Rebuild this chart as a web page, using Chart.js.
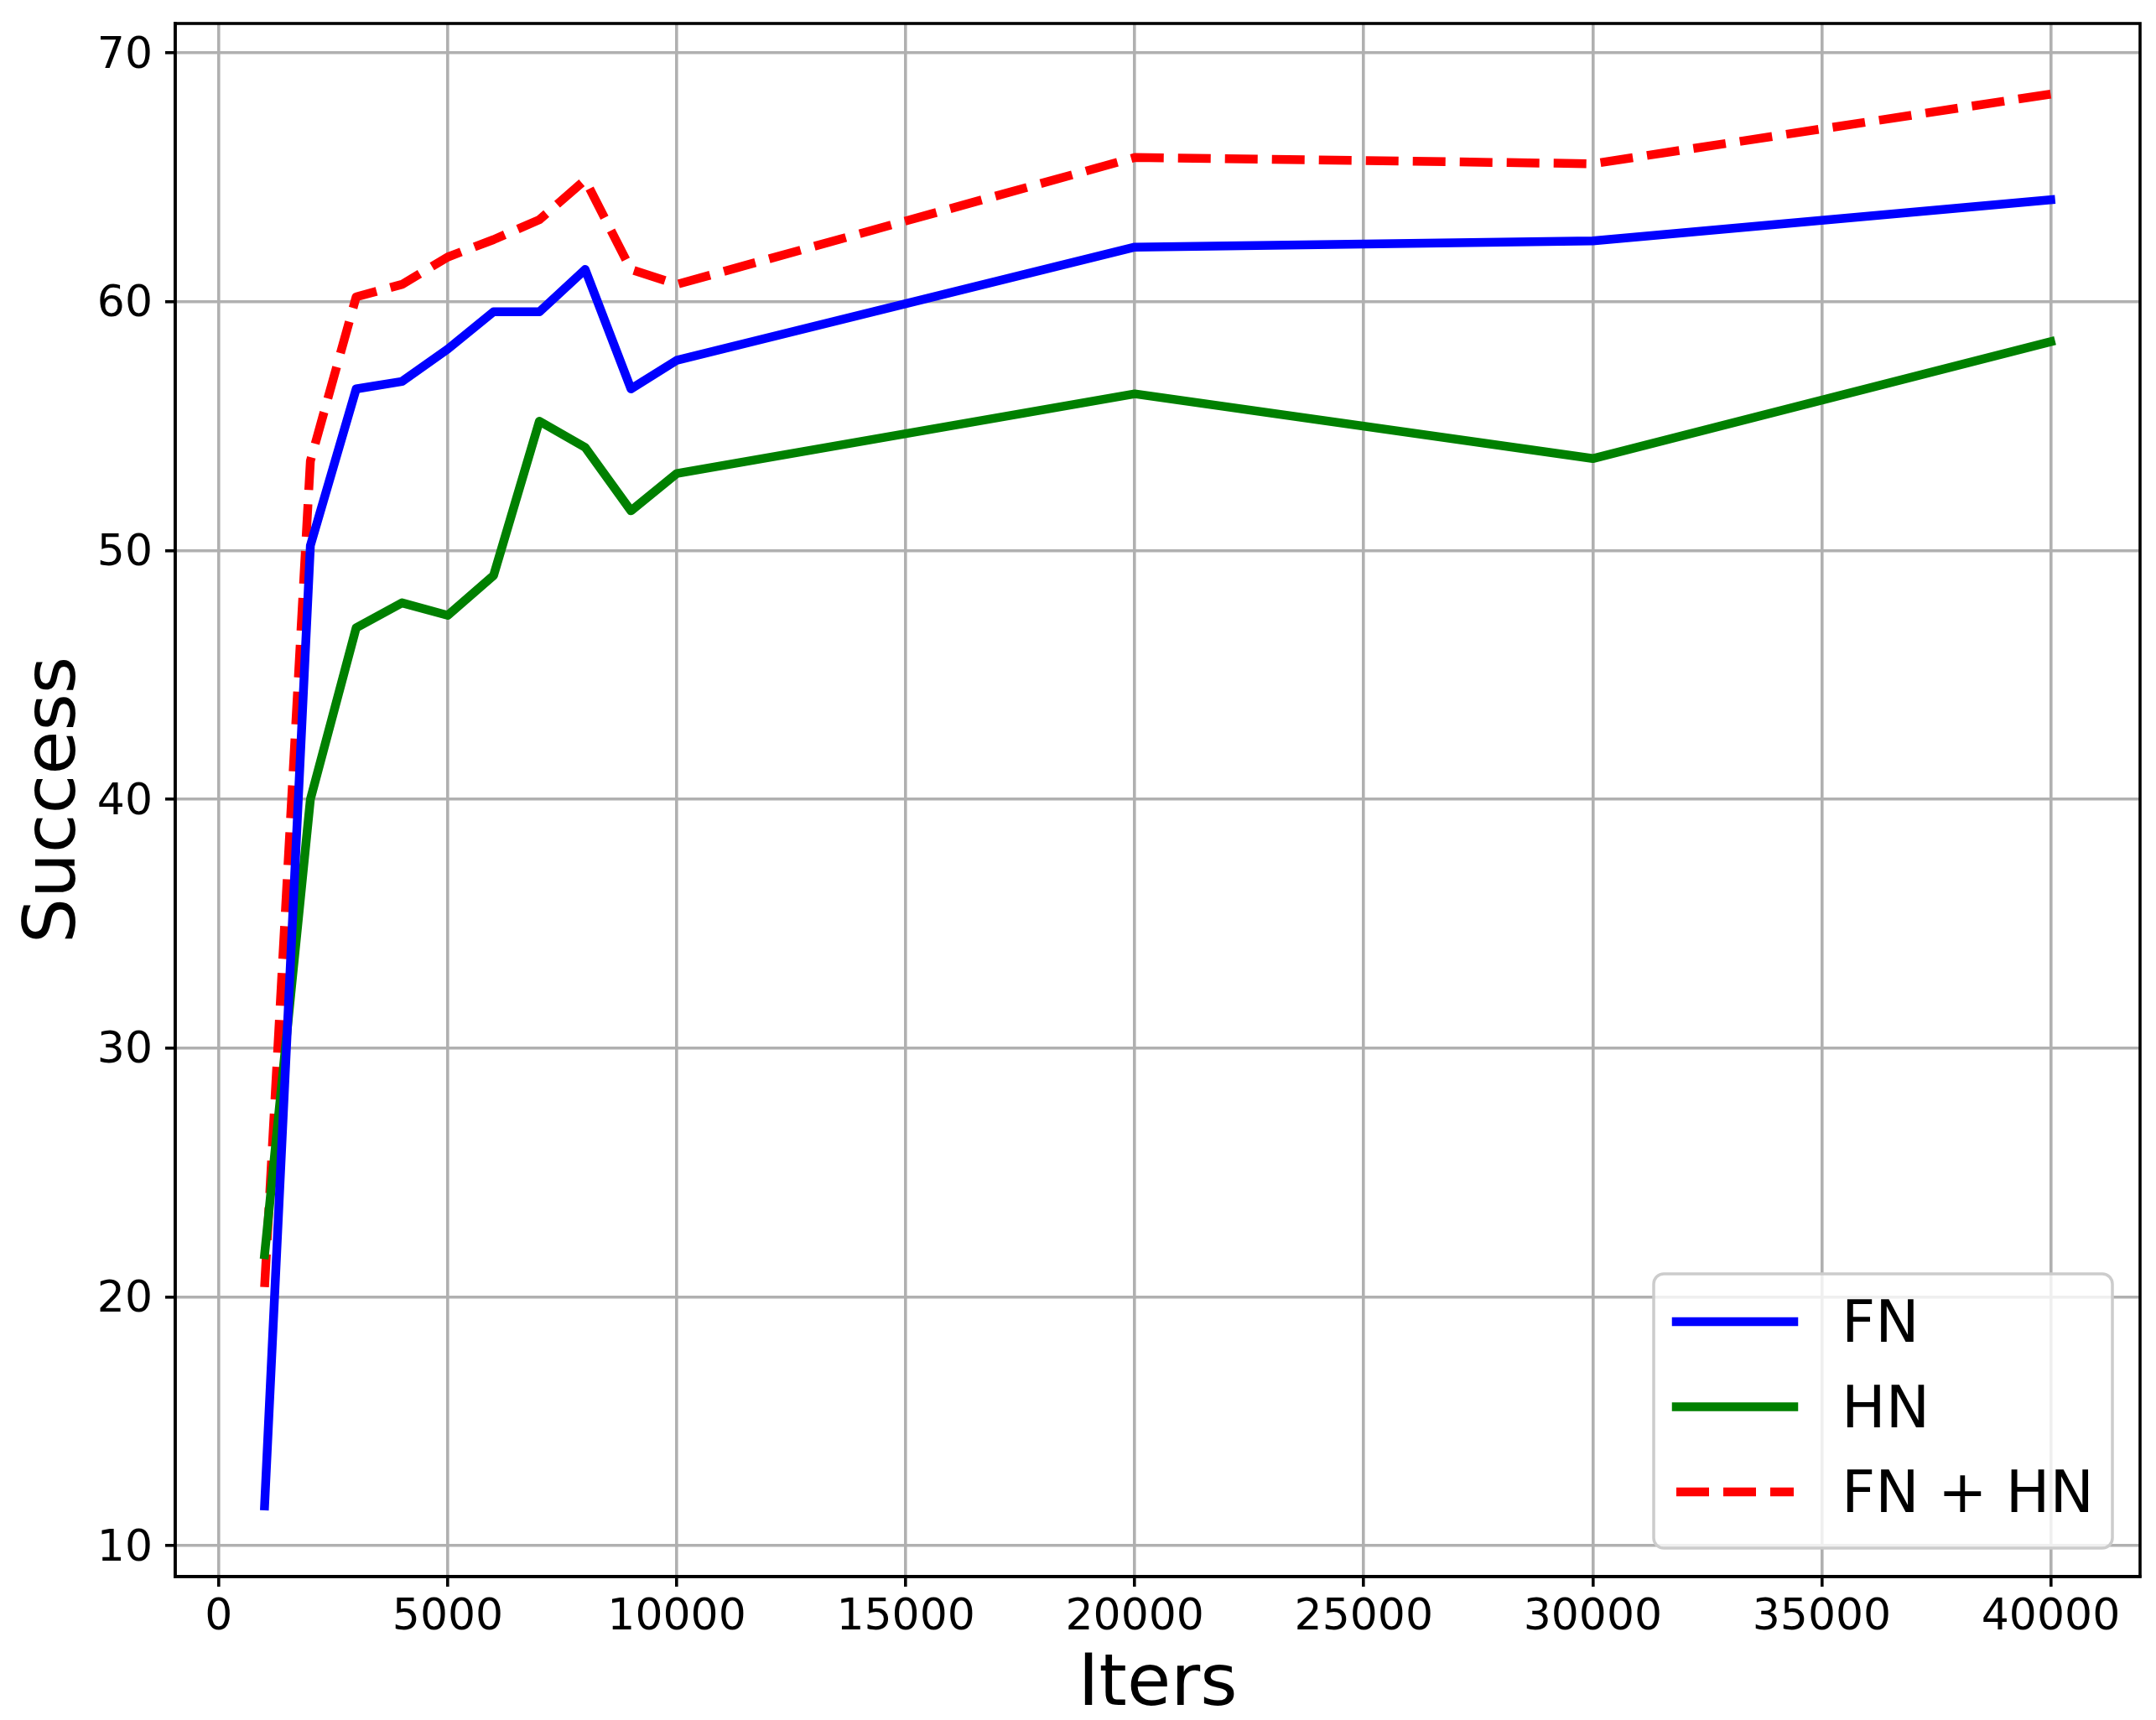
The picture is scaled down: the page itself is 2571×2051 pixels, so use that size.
<!DOCTYPE html>
<html>
<head>
<meta charset="utf-8">
<script src="https://cdn.jsdelivr.net/npm/chart.js@4.4.1/dist/chart.umd.min.js"></script>
<style>
  html, body { margin: 0; padding: 0; background: #fff; }
  #wrap { width: 2571px; height: 2051px; }
</style>
</head>
<body>
<div id="wrap"><canvas id="chart"></canvas></div>
<script>
  // Datos
  const iters = [1000, 2000, 3000, 4000, 5000, 6000, 7000, 8000, 9000, 10000, 20000, 30000, 40000];
  const fn = [11.6, 50.2, 56.5, 56.8, 58.1, 59.6, 59.6, 61.3, 56.5, 57.65, 62.2, 62.45, 64.1];
  const hn = [21.7, 40.0, 46.9, 47.9, 47.4, 49.0, 55.2, 54.15, 51.6, 53.1, 56.3, 53.7, 58.4];
  const fnHn = [20.4, 53.6, 60.2, 60.7, 61.8, 62.5, 63.3, 64.9, 61.3, 60.7, 65.8, 65.55, 68.35];

  const xTicks = [0, 5000, 10000, 15000, 20000, 25000, 30000, 35000, 40000];
  const yTicks = [10, 20, 30, 40, 50, 60, 70];

  const toPoints = ys => iters.map((x, i) => ({ x: x, y: ys[i] }));

  // margen del 5% como matplotlib
  const pad = (lo, hi) => [lo - (hi - lo) * 0.05, hi + (hi - lo) * 0.05];
  const [xMin, xMax] = pad(Math.min(...iters), Math.max(...iters));
  const allY = [...fn, ...hn, ...fnHn];
  const [yMin, yMax] = pad(Math.min(...allY), Math.max(...allY));

  Chart.defaults.font.family = '"DejaVu Sans", sans-serif';
  Chart.defaults.color = '#000';

  // marco completo y leyenda dentro del area
  const frameAndLegend = {
      id: 'frameAndLegend',
      afterDraw(chart) {
          const { ctx, chartArea: a } = chart;
          ctx.save();
          ctx.strokeStyle = '#000';
          ctx.lineWidth = 3.6;
          ctx.strokeRect(a.left, a.top, a.right - a.left, a.bottom - a.top);

          const w = 547, h = 327;
          const bx = a.right - 33 - w;
          const by = a.bottom - 34 - h;
          ctx.beginPath();
          ctx.roundRect(bx, by, w, h, 12);
          ctx.fillStyle = 'rgba(255,255,255,0.8)';
          ctx.fill();
          ctx.strokeStyle = '#cccccc';
          ctx.lineWidth = 3.5;
          ctx.stroke();

          chart.data.datasets.forEach((ds, i) => {
              const ly = by + 57 + i * 101.5;
              ctx.beginPath();
              ctx.setLineDash(ds.borderDash || []);
              ctx.lineCap = ds.borderCapStyle;
              ctx.strokeStyle = ds.borderColor;
              ctx.lineWidth = ds.borderWidth;
              ctx.moveTo(bx + 27, ly);
              ctx.lineTo(bx + 167, ly);
              ctx.stroke();
              ctx.setLineDash([]);
              ctx.fillStyle = '#000';
              ctx.font = '70px "DejaVu Sans"';
              ctx.textBaseline = 'middle';
              ctx.textAlign = 'left';
              ctx.fillText(ds.label, bx + 224, ly + 6);
          });
          ctx.restore();
      }
  };

  const gridOpts = {
      color: '#b0b0b0',
      lineWidth: 3.6,
      tickColor: '#000',
      tickWidth: 3.6,
      tickLength: 12
  };

  new Chart(document.getElementById('chart'), {
      type: 'line',
      data: {
          datasets: [
              {
                  label: 'FN',
                  data: toPoints(fn),
                  borderColor: '#0000ff',
                  borderWidth: 10.5,
                  borderCapStyle: 'square',
                  borderJoinStyle: 'round'
              },
              {
                  label: 'HN',
                  data: toPoints(hn),
                  borderColor: '#008000',
                  borderWidth: 10.5,
                  borderCapStyle: 'square',
                  borderJoinStyle: 'round'
              },
              {
                  label: 'FN + HN',
                  data: toPoints(fnHn),
                  borderColor: '#ff0000',
                  borderWidth: 10.5,
                  borderDash: [39, 17],
                  borderCapStyle: 'butt',
                  borderJoinStyle: 'round'
              }
          ]
      },
      options: {
          responsive: true,
          maintainAspectRatio: false,
          animation: false,
          elements: {
              point: { radius: 0, hoverRadius: 0 },
              line: { tension: 0, fill: false }
          },
          layout: { padding: { left: 0, top: 28, right: 19, bottom: 0 } },
          plugins: {
              legend: { display: false },
              tooltip: { enabled: false }
          },
          scales: {
              x: {
                  type: 'linear',
                  min: xMin,
                  max: xMax,
                  grid: gridOpts,
                  border: { color: '#000', width: 3.6 },
                  afterBuildTicks: s => { s.ticks = xTicks.map(v => ({ value: v })); },
                  afterFit: s => {
                      s.height = 171;
                      s.paddingLeft = s.paddingRight = s.paddingTop = s.paddingBottom = 0;
                  },
                  ticks: {
                      font: { size: 52, lineHeight: 1 },
                      padding: 11,
                      maxRotation: 0,
                      autoSkip: false,
                      callback: v => String(v)
                  },
                  title: {
                      display: true,
                      text: 'Iters',
                      font: { size: 85, lineHeight: 0.8 },
                      padding: { top: 0, bottom: 6.5 }
                  }
              },
              y: {
                  type: 'linear',
                  min: yMin,
                  max: yMax,
                  grid: gridOpts,
                  border: { color: '#000', width: 3.6 },
                  afterBuildTicks: s => { s.ticks = yTicks.map(v => ({ value: v })); },
                  afterFit: s => {
                      s.width = 209;
                      s.paddingLeft = s.paddingRight = s.paddingTop = s.paddingBottom = 0;
                  },
                  ticks: {
                      font: { size: 52, lineHeight: 1 },
                      padding: 15,
                      labelOffset: 4,
                      autoSkip: false,
                      callback: v => String(v)
                  },
                  title: {
                      display: true,
                      text: 'Success',
                      font: { size: 85, lineHeight: 1 },
                      padding: { top: 24, bottom: 0 }
                  }
              }
          }
      },
      plugins: [frameAndLegend]
  });
</script>
</body>
</html>
